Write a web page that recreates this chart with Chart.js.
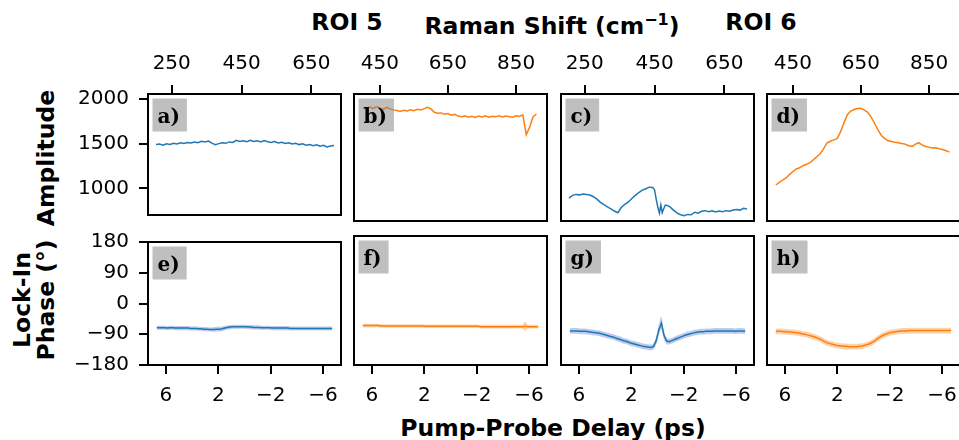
<!DOCTYPE html>
<html>
<head>
<meta charset="utf-8">
<script src="https://cdn.jsdelivr.net/npm/chart.js@4.4.1/dist/chart.umd.min.js"></script>
<style>
  html, body { margin: 0; padding: 0; background: #fff; overflow: hidden; }
  #fig { position: relative; width: 959px; height: 440px; overflow: hidden; font-family: 'DejaVu Sans', sans-serif; }
  #fig canvas { position: absolute; }
  .lbl { position: absolute; font-weight: bold; font-size: 23.5px; line-height: 1; white-space: nowrap; color: #000; }
  .ctr { transform: translateX(-50%); }
  .rot { transform: translate(-50%, -50%) rotate(-90deg); }
  .sup { font-size: 16px; position: relative; top: -9px; font-weight: bold; }
</style>
</head>
<body>
<div id="fig">
  <div class="lbl ctr" style="left:347px; top:11px">ROI 5</div>
  <div class="lbl ctr" style="left:552px; top:15px">Raman Shift (cm<span class="sup">&minus;1</span>)</div>
  <div class="lbl ctr" style="left:761px; top:11px">ROI 6</div>
  <div class="lbl ctr" style="left:553px; top:417px">Pump-Probe Delay (ps)</div>
  <div class="lbl rot" style="left:47px; top:158px">Amplitude</div>
  <div class="lbl rot" style="left:23px; top:300px">Lock-In</div>
  <div class="lbl rot" style="left:47px; top:300px">Phase (&deg;)</div>
</div>
<script>
// ---- Raman shift axes (cm^-1) ----
const shiftA = [205, 215, 225, 235, 245, 255, 265, 275, 285, 295,
  305, 315, 325, 335, 345, 355, 365, 375, 385, 395,
  405, 415, 425, 435, 445, 455, 465, 475, 485, 495,
  505, 515, 525, 535, 545, 555, 565, 575, 585, 595,
  605, 615, 625, 635, 645, 655, 665, 675, 685, 695,
  705, 715];
const shiftC = [205, 215, 225, 235, 245, 255, 265, 275, 285, 295,
  305, 315, 325, 335, 345, 355, 365, 375, 385, 395,
  405, 415, 425, 435, 445, 450, 455, 460, 464, 468,
  472, 476, 481, 488, 495, 505, 515, 525, 535, 545,
  555, 565, 575, 585, 595, 605, 615, 625, 635, 645,
  655, 665, 675, 685, 695, 705, 715];
const shiftBD = [400, 410, 420, 430, 440, 450, 460, 470, 480, 490,
  500, 510, 520, 530, 540, 550, 560, 570, 580, 590,
  600, 610, 620, 630, 640, 650, 660, 670, 680, 690,
  700, 710, 720, 730, 740, 750, 760, 770, 780, 790,
  800, 810, 820, 830, 840, 850, 860, 870, 880, 890,
  900, 910];

// ---- amplitude spectra ----
const ampA = [1488, 1495, 1482, 1497, 1490, 1503, 1494, 1508, 1500, 1512,
  1505, 1518, 1510, 1524, 1516, 1527, 1505, 1488, 1499, 1508,
  1502, 1518, 1512, 1536, 1524, 1532, 1520, 1535, 1522, 1530,
  1518, 1533, 1520, 1512, 1522, 1507, 1514, 1500, 1508, 1494,
  1502, 1488, 1497, 1482, 1490, 1476, 1485, 1470, 1480, 1462,
  1472, 1478];
const ampB = [1905, 1890, 1915, 1898, 1920, 1902, 1888, 1910, 1895, 1884,
  1878, 1868, 1880, 1872, 1885, 1876, 1890, 1882, 1898, 1912,
  1895, 1858, 1848, 1852, 1838, 1845, 1828, 1836, 1818, 1812,
  1822, 1806, 1815, 1804, 1818, 1808, 1820, 1806, 1816, 1810,
  1822, 1808, 1818, 1812, 1806, 1822, 1815, 1832, 1620, 1700,
  1812, 1840];
const ampC = [945, 975, 985, 980, 990, 984, 978, 960, 935, 900,
  875, 852, 832, 808, 790, 848, 880, 905, 942, 975,
  1005, 1030, 1045, 1062, 1058, 1035, 930, 840, 785, 872,
  790, 830, 872, 865, 850, 815, 785, 768, 758, 772,
  768, 795, 785, 805, 812, 800, 810, 798, 808, 800,
  812, 805, 818, 825, 818, 838, 830];
const ampD = [1085, 1112, 1138, 1160, 1195, 1228, 1255, 1268, 1290, 1305,
  1322, 1352, 1385, 1418, 1470, 1532, 1550, 1565, 1578, 1650,
  1745, 1832, 1872, 1888, 1898, 1900, 1882, 1858, 1808, 1742,
  1672, 1612, 1578, 1555, 1548, 1540, 1534, 1526, 1520, 1502,
  1496, 1520, 1535, 1510, 1494, 1488, 1478, 1482, 1470, 1462,
  1450, 1434];

// ---- pump-probe delay (ps) ----
const delay = [6.7, 6.5, 6.3, 6.1, 5.9, 5.7, 5.5, 5.3, 5.1, 4.9,
  4.7, 4.5, 4.3, 4.1, 3.9, 3.7, 3.5, 3.3, 3.1, 2.9,
  2.7, 2.5, 2.3, 2.1, 1.9, 1.7, 1.5, 1.3, 1.1, 0.9,
  0.7, 0.5, 0.3, 0.1, -0.1, -0.3, -0.5, -0.7, -0.9, -1.1,
  -1.3, -1.5, -1.7, -1.9, -2.1, -2.3, -2.5, -2.7, -2.9, -3.1,
  -3.3, -3.5, -3.7, -3.9, -4.1, -4.3, -4.5, -4.7, -4.9, -5.1,
  -5.3, -5.5, -5.7, -5.9, -6.1, -6.3, -6.5, -6.7];

// ---- lock-in phase (deg) and its spread ----
const phaseE = [-71, -71, -71, -71, -72, -71, -71, -72, -72, -72,
  -72, -72, -72, -73, -73, -73, -74, -74, -75, -75,
  -76, -76, -76, -75, -75, -74, -72, -70, -69, -68,
  -68, -68, -68, -68, -68, -69, -69, -70, -70, -70,
  -71, -71, -71, -71, -72, -72, -72, -72, -72, -72,
  -72, -73, -73, -73, -73, -73, -73, -73, -73, -73,
  -73, -73, -73, -73, -73, -73, -73, -73];
const phaseF = [-70, -70, -70, -70, -70, -70, -70, -71, -71, -71,
  -71, -71, -71, -71, -71, -71, -71, -71, -71, -71,
  -71, -71, -71, -71, -72, -72, -72, -72, -72, -72,
  -72, -72, -72, -72, -72, -72, -72, -72, -72, -72,
  -72, -72, -72, -72, -72, -73, -73, -73, -73, -73,
  -73, -73, -73, -73, -73, -73, -73, -73, -73, -73,
  -73, -73, -72, -73, -73, -73, -73, -73];
const phaseG = [-85, -85, -85, -85, -86, -86, -86, -87, -88, -89,
  -90, -91, -93, -95, -97, -99, -101, -103, -106, -108,
  -111, -113, -115, -118, -120, -122, -124, -126, -128, -129,
  -130, -131, -128, -112, -82, -63, -98, -113, -115, -112,
  -109, -106, -103, -100, -97, -95, -93, -91, -89, -88,
  -87, -87, -86, -86, -86, -85, -85, -85, -85, -85,
  -85, -85, -85, -86, -85, -85, -85, -86];
const phaseH = [-86, -86, -86, -87, -87, -88, -88, -89, -90, -91,
  -93, -94, -96, -98, -100, -102, -105, -108, -112, -116,
  -119, -121, -123, -125, -126, -127, -128, -128, -129, -129,
  -129, -129, -128, -127, -125, -123, -120, -116, -111, -106,
  -101, -97, -94, -91, -89, -88, -87, -86, -85, -85,
  -85, -84, -84, -84, -84, -84, -84, -84, -84, -84,
  -84, -84, -84, -84, -84, -84, -84, -84];
const spreadE = [6, 6, 6, 6, 6, 6, 6, 6, 6, 6,
  6, 6, 6, 6, 6, 6, 6, 6, 6, 6,
  6, 6, 7, 7, 7, 7, 6, 6, 6, 6,
  6, 6, 6, 6, 6, 6, 6, 6, 6, 6,
  6, 6, 6, 6, 6, 6, 6, 6, 6, 6,
  6, 6, 6, 6, 6, 6, 6, 6, 6, 6,
  6, 6, 6, 6, 6, 6, 6, 6];
const spreadF = [5, 5, 5, 5, 5, 5, 5, 5, 5, 5,
  5, 5, 5, 5, 5, 5, 5, 5, 5, 5,
  5, 5, 5, 5, 5, 5, 5, 5, 5, 5,
  5, 5, 5, 5, 5, 5, 5, 5, 5, 5,
  5, 5, 5, 5, 5, 5, 5, 5, 5, 5,
  5, 5, 5, 5, 5, 5, 5, 5, 5, 5,
  5, 6, 13, 6, 5, 5, 5, 5];
const spreadG = [8, 8, 8, 8, 8, 8, 8, 8, 8, 8,
  8, 8, 8, 8, 8, 8, 8, 8, 8, 8,
  8, 8, 8, 8, 8, 8, 8, 8, 8, 8,
  8, 8, 9, 11, 15, 18, 12, 9, 8, 8,
  8, 8, 8, 8, 8, 8, 8, 8, 8, 8,
  8, 8, 8, 8, 8, 8, 8, 8, 8, 8,
  8, 8, 8, 8, 8, 8, 8, 8];
const spreadH = [8, 8, 8, 8, 8, 8, 8, 8, 8, 8,
  8, 8, 8, 8, 8, 8, 8, 8, 8, 8,
  8, 8, 8, 8, 8, 8, 8, 8, 8, 8,
  8, 8, 8, 8, 8, 8, 8, 8, 8, 8,
  8, 8, 8, 8, 8, 8, 8, 8, 8, 8,
  8, 8, 8, 8, 8, 8, 8, 8, 8, 8,
  8, 8, 8, 8, 8, 8, 8, 8];

// ---- tick labels ----
const shiftTicksAC = [250, 450, 650];
const shiftTicksBD = [450, 650, 850];
const delayTicks = [6, 2, -2, -6];
const ampTicks = [1000, 1500, 2000];
const phaseTicks = [-180, -90, 0, 90, 180];

const BLUE = '#1f77b4', ORANGE = '#ff7f0e';
const BAND_BLUE = 'rgba(70,110,200,0.35)', BAND_ORANGE = 'rgba(255,127,14,0.35)';

// panel grid geometry (px)
const COL_X = [148, 354, 561, 767];
const PANEL_W = 193;
const ROW_Y = [94, 236];
const ROW_H = [127, 129];
const Y_AXIS_W = 80, X_AXIS_H = 48;

const tickFont = { family: 'DejaVu Sans', size: 20 };
const fmt = v => String(v).replace('-', '\u2212');

// gray tag box + black frame around the plot area
const panelDecor = {
  id: 'panelDecor',
  afterDatasetsDraw(chart, args, opts) {
    const { ctx, chartArea: a } = chart;
    ctx.save();
    ctx.font = 'bold 20px "DejaVu Serif"';
    const tw = ctx.measureText(opts.tag).width;
    ctx.fillStyle = 'rgba(128,128,128,0.5)';
    ctx.fillRect(a.left + 4.5, a.top + 4.5, tw + 12, 33);
    ctx.fillStyle = '#000';
    ctx.textBaseline = 'alphabetic';
    ctx.fillText(opts.tag, a.left + 9.5, a.top + 28.5);
    ctx.lineWidth = 2;
    ctx.strokeStyle = '#000';
    ctx.strokeRect(a.left, a.top, a.right - a.left, a.bottom - a.top);
    ctx.restore();
  }
};

function zip(xs, ys) {
  return xs.map((x, i) => ({ x, y: ys[i] }));
}

function tickGrid() {
  return { drawOnChartArea: false, drawTicks: true, tickLength: 9, tickWidth: 2, lineWidth: 2, tickColor: '#000', color: '#000' };
}

function makePanel(p) {
  const topRow = p.row === 0;
  const showY = p.col === 0;
  const bx = COL_X[p.col], by = ROW_Y[p.row], bw = PANEL_W, bh = ROW_H[p.row];
  const padL = showY ? 86 : 16, padR = 16;
  const padT = topRow ? 54 : 16, padB = topRow ? 16 : 54;

  const canvas = document.createElement('canvas');
  canvas.width = bw + padL + padR;
  canvas.height = bh + padT + padB;
  canvas.style.left = (bx - padL) + 'px';
  canvas.style.top = (by - padT) + 'px';
  document.getElementById('fig').appendChild(canvas);

  const datasets = [{
    data: zip(p.xs, p.ys), borderColor: p.color, borderWidth: 1.5,
    pointRadius: 0, fill: false, tension: 0
  }];
  if (p.spread) {
    datasets.push({
      data: p.xs.map((x, i) => ({ x, y: p.ys[i] - p.spread[i] })),
      borderColor: 'rgba(0,0,0,0)', borderWidth: 1, pointRadius: 0, fill: false, tension: 0.3
    });
    datasets.push({
      data: p.xs.map((x, i) => ({ x, y: p.ys[i] + p.spread[i] })),
      borderColor: 'rgba(0,0,0,0)', borderWidth: 1, pointRadius: 0, fill: '-1',
      backgroundColor: p.band, tension: 0.3
    });
  }

  new Chart(canvas, {
    type: 'line',
    data: { datasets },
    options: {
      responsive: false,
      animation: false,
      devicePixelRatio: 1,
      layout: {
        padding: {
          left: showY ? padL - Y_AXIS_W : padL,
          right: padR,
          top: topRow ? padT - X_AXIS_H : padT,
          bottom: topRow ? padB : padB - X_AXIS_H
        }
      },
      plugins: {
        legend: { display: false },
        tooltip: { enabled: false },
        panelDecor: { tag: p.tag }
      },
      scales: {
        x: {
          type: 'linear',
          position: topRow ? 'top' : 'bottom',
          min: p.xRange[0], max: p.xRange[1],
          reverse: !topRow,
          afterBuildTicks: s => { s.ticks = p.xTicks.map(v => ({ value: v })); },
          afterFit: s => { s.height = X_AXIS_H; },
          grid: tickGrid(),
          border: { display: false },
          ticks: { font: tickFont, color: '#000', padding: topRow ? 9 : 10, maxRotation: 0, autoSkip: false, callback: fmt }
        },
        y: {
          type: 'linear',
          display: showY,
          min: p.yRange[0], max: p.yRange[1],
          afterBuildTicks: s => { s.ticks = p.yTicks.map(v => ({ value: v })); },
          afterFit: s => { s.width = showY ? Y_AXIS_W : 0; },
          grid: tickGrid(),
          border: { display: false },
          ticks: { font: tickFont, color: '#000', padding: 10, autoSkip: false, callback: fmt }
        }
      }
    },
    plugins: [panelDecor]
  });
}

const ampRange = [702, 2053];
const phaseRange = [-180, 180];
const delayRange = [-7.37, 7.37];

[
  { tag: 'a)', row: 0, col: 0, xs: shiftA, ys: ampA, color: BLUE, xRange: [182, 735], xTicks: shiftTicksAC },
  { tag: 'b)', row: 0, col: 1, xs: shiftBD, ys: ampB, color: ORANGE, xRange: [374, 941], xTicks: shiftTicksBD },
  { tag: 'c)', row: 0, col: 2, xs: shiftC, ys: ampC, color: BLUE, xRange: [182, 735], xTicks: shiftTicksAC },
  { tag: 'd)', row: 0, col: 3, xs: shiftBD, ys: ampD, color: ORANGE, xRange: [374, 941], xTicks: shiftTicksBD },
  { tag: 'e)', row: 1, col: 0, xs: delay, ys: phaseE, spread: spreadE, color: BLUE, band: BAND_BLUE },
  { tag: 'f)', row: 1, col: 1, xs: delay, ys: phaseF, spread: spreadF, color: ORANGE, band: BAND_ORANGE },
  { tag: 'g)', row: 1, col: 2, xs: delay, ys: phaseG, spread: spreadG, color: BLUE, band: BAND_BLUE },
  { tag: 'h)', row: 1, col: 3, xs: delay, ys: phaseH, spread: spreadH, color: ORANGE, band: BAND_ORANGE }
].forEach(p => {
  if (p.row === 0) {
    p.yRange = ampRange; p.yTicks = ampTicks;
  } else {
    p.yRange = phaseRange; p.yTicks = phaseTicks;
    p.xRange = delayRange; p.xTicks = delayTicks;
  }
  makePanel(p);
});
</script>
</body>
</html>
